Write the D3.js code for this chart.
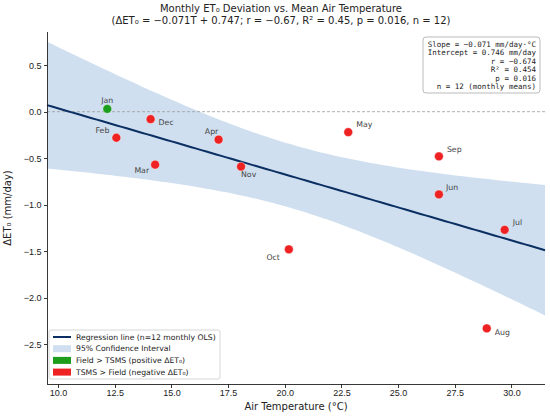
<!DOCTYPE html>
<html lang="en">
<head>
  <meta charset="UTF-8">
  <title>Monthly ET0 deviation vs air temperature</title>
  <style>
    body { margin: 0; background: #fff; }
    svg { font-family: "DejaVu Sans", sans-serif; }
    .axis path, .axis line { stroke: #222; stroke-width: 0.9; shape-rendering: crispEdges; }
    .axis text { fill: #222; font-size: 9px; }
  </style>
  <script src="https://d3js.org/d3.v7.min.js"></script>
</head>
<body>
<div id="chart"></div>
<script>
// monthly means
var months = ["Jan", "Feb", "Mar", "Apr", "May", "Jun", "Jul", "Aug", "Sep", "Oct", "Nov", "Dec"];
var tempC = [12.17, 12.57, 14.28, 17.08, 22.80, 26.80, 29.70, 28.91, 26.80, 20.18, 18.07, 14.08];
var deltaET0 = [0.03, -0.28, -0.57, -0.30, -0.22, -0.89, -1.27, -2.33, -0.48, -1.48, -0.59, -0.08];

// regression as reported on the figure
var slope = -0.071, intercept = 0.746, tCrit = 2.228;

var xTicks = [10, 12.5, 15, 17.5, 20, 22.5, 25, 27.5, 30];
var yTicks = [0.5, 0, -0.5, -1, -1.5, -2, -2.5];

var titleLines = [
  "Monthly ET\u2080 Deviation vs. Mean Air Temperature",
  "(\u0394ET\u2080 = \u22120.071T + 0.747; r = \u22120.67, R\u00b2 = 0.45, p = 0.016, n = 12)"
];
var statLines = [
  "Slope = \u22120.071 mm/day\u00b7\u00b0C",
  "Intercept = 0.746 mm/day",
  "r = \u22120.674",
  "R\u00b2 = 0.454",
  "p = 0.016",
  "n = 12 (monthly means)"
];
var legendLabels = [
  "Regression line (n=12 monthly OLS)",
  "95% Confidence Interval",
  "Field > TSMS (positive \u0394ET\u2080)",
  "TSMS > Field (negative \u0394ET\u2080)"
];

// label placement per month: dx, dy, anchor
var labelPos = {
  Jan: [0, -8, "middle"], Feb: [-7, -7, "end"], Mar: [-6, 6, "end"], Apr: [-7, -8, "middle"],
  May: [8, -8, "start"], Jun: [7, -7, "start"], Jul: [8, -7, "start"], Aug: [8, 4, "start"],
  Sep: [8, -7, "start"], Oct: [-9, 8, "end"], Nov: [0, 8, "start"], Dec: [8, 3, "start"]
};

var W = 550, H = 416;
var margin = {top: 32, right: 5, bottom: 32, left: 47};
var width = W - margin.left - margin.right,
    height = H - margin.top - margin.bottom;

var red = "#ee2222", green = "#1c9e1c", navy = "#0b2f62", band = "#cfdfef";

var svg = d3.select("#chart").append("svg").attr("width", W).attr("height", H);
var g = svg.append("g").attr("transform", "translate(" + margin.left + "," + margin.top + ")");

var x = d3.scaleLinear().domain([9.51, 31.48]).range([0, width]);
var y = d3.scaleLinear().domain([-2.928, 0.857]).range([height, 0]);

// confidence band of the mean from residuals
var n = tempC.length;
var meanT = d3.mean(tempC);
var sxx = d3.sum(tempC, function(t) { return (t - meanT) * (t - meanT); });
var sse = d3.sum(tempC, function(t, i) { var r = deltaET0[i] - (intercept + slope * t); return r * r; });
var s = Math.sqrt(sse / (n - 2));

var grid = d3.range(0, 101).map(function(i) {
  var t = x.domain()[0] + (x.domain()[1] - x.domain()[0]) * i / 100;
  var fit = intercept + slope * t;
  var hw = tCrit * s * Math.sqrt(1 / n + (t - meanT) * (t - meanT) / sxx);
  return {t: t, fit: fit, lo: fit - hw, hi: fit + hw};
});

g.append("path").datum(grid)
  .attr("fill", band)
  .attr("d", d3.area().x(function(d) { return x(d.t); })
    .y0(function(d) { return y(d.lo); }).y1(function(d) { return y(d.hi); }));

g.append("line")
  .attr("x1", 0).attr("x2", width).attr("y1", y(0)).attr("y2", y(0))
  .attr("stroke", "#999").attr("stroke-width", 0.8).attr("stroke-dasharray", "3,2");

g.append("path").datum(grid)
  .attr("fill", "none").attr("stroke", navy).attr("stroke-width", 2)
  .attr("d", d3.line().x(function(d) { return x(d.t); }).y(function(d) { return y(d.fit); }));

var pts = months.map(function(m, i) { return {m: m, t: tempC[i], v: deltaET0[i]}; });

g.selectAll(".pt").data(pts).enter().append("circle")
  .attr("class", "pt")
  .attr("cx", function(d) { return x(d.t); })
  .attr("cy", function(d) { return y(d.v); })
  .attr("r", 4.4)
  .attr("fill", function(d) { return d.v > 0 ? green : red; })
  .attr("stroke", "#fff").attr("stroke-width", 0.4);

g.selectAll(".lbl").data(pts).enter().append("text")
  .attr("class", "lbl")
  .attr("x", function(d) { return x(d.t) + labelPos[d.m][0]; })
  .attr("y", function(d) { return y(d.v) + labelPos[d.m][1]; })
  .attr("text-anchor", function(d) { return labelPos[d.m][2]; })
  .attr("dominant-baseline", "central")
  .attr("font-size", "7.8px").attr("fill", "#444")
  .text(function(d) { return d.m; });

// axes, left and bottom spines only
g.append("g").attr("class", "x axis")
  .attr("transform", "translate(0," + height + ")")
  .call(d3.axisBottom(x).tickValues(xTicks).tickSize(3.5).tickPadding(2)
    .tickFormat(function(d) { return d3.format(".1f")(d); }))
  .call(function(a) { a.select(".domain").attr("d", "M0,0H" + width); });

g.append("g").attr("class", "y axis")
  .call(d3.axisLeft(y).tickValues(yTicks).tickSize(3.5).tickPadding(2)
    .tickFormat(function(d) { return d3.format(".1f")(d).replace("-", "\u2212"); }))
  .call(function(a) { a.select(".domain").attr("d", "M0," + height + "V0"); });

// axis titles
svg.append("text")
  .attr("x", margin.left + width / 2).attr("y", H - 6)
  .attr("text-anchor", "middle").attr("font-size", "10px").attr("fill", "#222")
  .text("Air Temperature (\u00b0C)");

svg.append("text")
  .attr("transform", "translate(11," + (margin.top + height / 2) + ") rotate(-90)")
  .attr("text-anchor", "middle").attr("font-size", "10px").attr("fill", "#222")
  .text("\u0394ET\u2080 (mm/day)");

svg.selectAll(".title").data(titleLines).enter().append("text")
  .attr("class", "title")
  .attr("x", 281).attr("y", function(d, i) { return 12 + i * 12; })
  .attr("text-anchor", "middle").attr("font-size", "10px").attr("fill", "#222")
  .text(function(d) { return d; });

// stats box, top right
var sb = svg.append("g").attr("transform", "translate(423,37)");
sb.append("rect").attr("width", 117).attr("height", 56).attr("rx", 3)
  .attr("fill", "#fff").attr("stroke", "#aaa").attr("stroke-width", 0.8);
sb.selectAll("text").data(statLines).enter().append("text")
  .attr("x", 113).attr("y", function(d, i) { return 9.5 + i * 8.5; })
  .attr("text-anchor", "end")
  .attr("font-family", "DejaVu Sans Mono, monospace").attr("font-size", "7.5px").attr("fill", "#222")
  .text(function(d) { return d; });

// legend, lower left
var lg = svg.append("g").attr("transform", "translate(49,330)");
lg.append("rect").attr("width", 171).attr("height", 49).attr("rx", 2)
  .attr("fill", "#fff").attr("fill-opacity", 0.85).attr("stroke", "#ccc").attr("stroke-width", 0.8);
var rowY = function(i) { return 7 + i * 11.7; };
lg.append("line").attr("x1", 4).attr("x2", 22).attr("y1", rowY(0)).attr("y2", rowY(0))
  .attr("stroke", navy).attr("stroke-width", 2);
[band, green, red].forEach(function(c, i) {
  lg.append("rect").attr("x", 4).attr("y", rowY(i + 1) - 3.5).attr("width", 18).attr("height", 7)
    .attr("fill", c);
});
lg.selectAll(".lt").data(legendLabels).enter().append("text")
  .attr("class", "lt")
  .attr("x", 27).attr("y", function(d, i) { return rowY(i); })
  .attr("dominant-baseline", "central")
  .attr("font-size", "7.7px").attr("fill", "#222")
  .text(function(d) { return d; });
</script>
</body>
</html>
